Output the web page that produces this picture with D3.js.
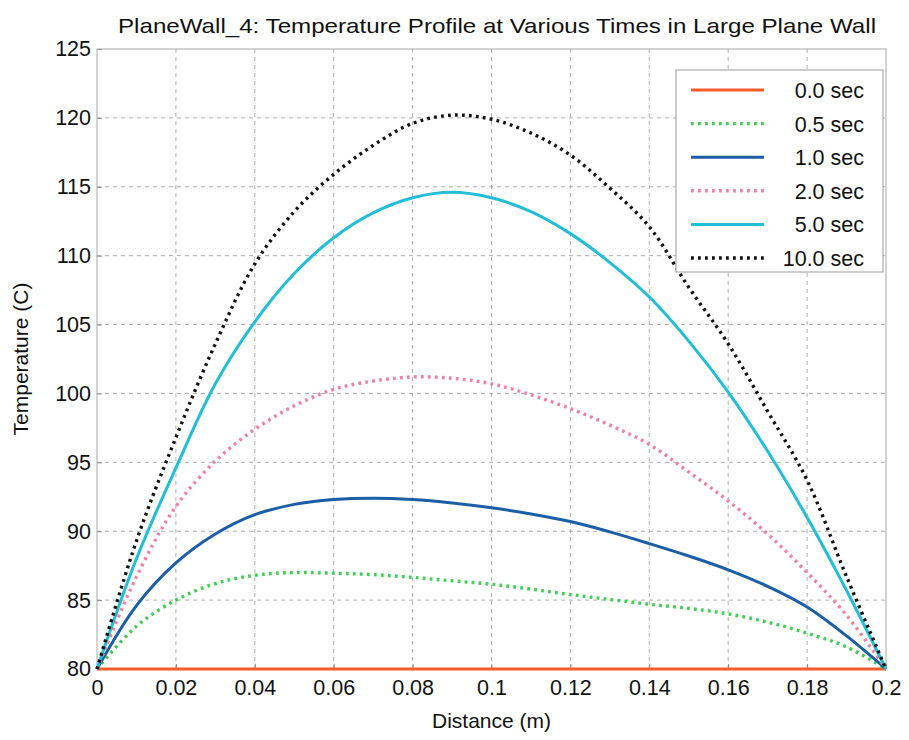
<!DOCTYPE html>
<html>
<head>
<meta charset="utf-8">
<script src="https://cdn.jsdelivr.net/npm/d3@7"></script>
<style>
  body { margin: 0; background: #fff; }
  text { font-family: "Liberation Sans", Arial, sans-serif; fill: #111; }
</style>
</head>
<body>
<svg id="chart" width="909" height="740"></svg>
<script>
// distance along the wall (m)
const distance = [0, 0.01, 0.02, 0.03, 0.04, 0.05, 0.06, 0.07, 0.08, 0.09, 0.1,
  0.11, 0.12, 0.13, 0.14, 0.15, 0.16, 0.17, 0.18, 0.19, 0.2]

// temperature (C) at each distance, one array per time
const t00 = [80, 80, 80, 80, 80, 80, 80, 80, 80, 80, 80, 80, 80, 80, 80, 80, 80, 80, 80, 80, 80]
const t05 = [80, 83.1, 85.0, 86.2, 86.8, 87.0, 86.95, 86.85, 86.65, 86.4, 86.15,
  85.8, 85.4, 85.05, 84.7, 84.4, 84.0, 83.4, 82.6, 81.6, 80]
const t10 = [80, 84.6, 87.7, 89.8, 91.2, 91.95, 92.3, 92.4, 92.3, 92.05, 91.7,
  91.25, 90.7, 89.95, 89.1, 88.2, 87.2, 86.0, 84.5, 82.4, 80]
const t20 = [80, 86.7, 91.8, 95.1, 97.4, 99.1, 100.3, 100.9, 101.2, 101.1, 100.7,
  99.9, 98.9, 97.7, 96.3, 94.3, 92.2, 89.8, 87.0, 83.9, 80]
const t50 = [80, 88.0, 94.6, 100.7, 105.2, 108.7, 111.3, 113.1, 114.2, 114.6, 114.2,
  113.2, 111.6, 109.5, 107.0, 103.8, 100.1, 95.8, 91.0, 85.7, 80]
const t100 = [80, 89.3, 96.8, 103.6, 109.4, 113.2, 115.9, 118.0, 119.6, 120.2, 119.9,
  118.9, 117.3, 114.9, 112.1, 107.7, 103.6, 98.7, 93.7, 86.7, 80]

const seriesNames = ['0.0 sec', '0.5 sec', '1.0 sec', '2.0 sec', '5.0 sec', '10.0 sec']
const seriesValues = [t00, t05, t10, t20, t50, t100]
const seriesColors = ['#f25c2a', '#3fcf55', '#1b5ea6', '#f27fa5', '#22bdd6', '#111111']
const seriesDashed = [false, true, false, true, false, true]

const xTicks = [0, 0.02, 0.04, 0.06, 0.08, 0.1, 0.12, 0.14, 0.16, 0.18, 0.2]
const yTicks = [80, 85, 90, 95, 100, 105, 110, 115, 120, 125]

const margin = { top: 49, right: 23, bottom: 71, left: 97 }
const width = 909 - margin.left - margin.right
const height = 740 - margin.top - margin.bottom

const svg = d3.select('#chart')
const g = svg.append('g').attr('transform', 'translate(' + margin.left + ',' + margin.top + ')')

const x = d3.scaleLinear().domain([0, 0.2]).range([0, width])
const y = d3.scaleLinear().domain([80, 125]).range([height, 0])

// grid
g.append('g')
  .selectAll('line')
  .data(xTicks.slice(1, -1))
  .join('line')
  .attr('x1', d => x(d)).attr('x2', d => x(d))
  .attr('y1', 0).attr('y2', height)
  .attr('stroke', '#9a9a9a').attr('stroke-width', 0.8).attr('stroke-dasharray', '4,4')
g.append('g')
  .selectAll('line')
  .data(yTicks.slice(1, -1))
  .join('line')
  .attr('x1', 0).attr('x2', width)
  .attr('y1', d => y(d)).attr('y2', d => y(d))
  .attr('stroke', '#9a9a9a').attr('stroke-width', 0.8).attr('stroke-dasharray', '4,4')

// axes
const xAxis = g.append('g').attr('transform', 'translate(0,' + height + ')')
  .call(d3.axisBottom(x).tickValues(xTicks).tickSize(-5).tickPadding(11).tickFormat(d => d3.format('~g')(d)))
const yAxis = g.append('g')
  .call(d3.axisLeft(y).tickValues(yTicks).tickSize(-5).tickPadding(6))
;[xAxis, yAxis].forEach(a => {
  a.select('.domain').remove()
  a.selectAll('line').attr('stroke', '#888')
  a.selectAll('text').attr('font-size', 21.5).attr('fill', '#111')
    .style('font-family', '"Liberation Sans", Arial, sans-serif')
})

g.append('rect')
  .attr('width', width).attr('height', height)
  .attr('fill', 'none').attr('stroke', '#a8a8a8').attr('stroke-width', 1)

// lines
const line = d3.line()
  .x((d, i) => x(distance[i]))
  .y(d => y(d))
  .curve(d3.curveCatmullRom.alpha(0.5))

g.append('g')
  .selectAll('path')
  .data(seriesValues)
  .join('path')
  .attr('d', d => line(d))
  .attr('fill', 'none')
  .attr('stroke', (d, i) => seriesColors[i])
  .attr('stroke-width', (d, i) => seriesDashed[i] ? 3.4 : 3)
  .attr('stroke-dasharray', (d, i) => seriesDashed[i] ? '2.8,4.2' : null)

// legend
const legend = svg.append('g').attr('transform', 'translate(676,70)')
legend.append('rect')
  .attr('width', 207).attr('height', 202)
  .attr('fill', '#fff').attr('stroke', '#9a9a9a').attr('stroke-width', 1)
const item = legend.selectAll('g.item')
  .data(seriesNames)
  .join('g')
  .attr('class', 'item')
  .attr('transform', (d, i) => 'translate(0,' + (20 + i * 33.6) + ')')
item.append('line')
  .attr('x1', 15).attr('x2', 88)
  .attr('stroke', (d, i) => seriesColors[i])
  .attr('stroke-width', (d, i) => seriesDashed[i] ? 3.4 : 3)
  .attr('stroke-dasharray', (d, i) => seriesDashed[i] ? '2.8,4.2' : null)
item.append('text')
  .attr('x', 188).attr('y', 8)
  .attr('text-anchor', 'end')
  .attr('font-size', 21.5)
  .text(d => d)

// titles
svg.append('text')
  .attr('x', 118).attr('y', 33)
  .attr('font-size', 21)
  .attr('textLength', 758).attr('lengthAdjust', 'spacingAndGlyphs')
  .text('PlaneWall_4:  Temperature Profile at Various Times in Large Plane Wall')
svg.append('text')
  .attr('x', margin.left + width / 2).attr('y', 728)
  .attr('text-anchor', 'middle').attr('font-size', 21)
  .text('Distance (m)')
svg.append('text')
  .attr('transform', 'translate(28,' + (margin.top + height / 2) + ') rotate(-90)')
  .attr('text-anchor', 'middle').attr('font-size', 21)
  .text('Temperature (C)')
</script>
</body>
</html>
